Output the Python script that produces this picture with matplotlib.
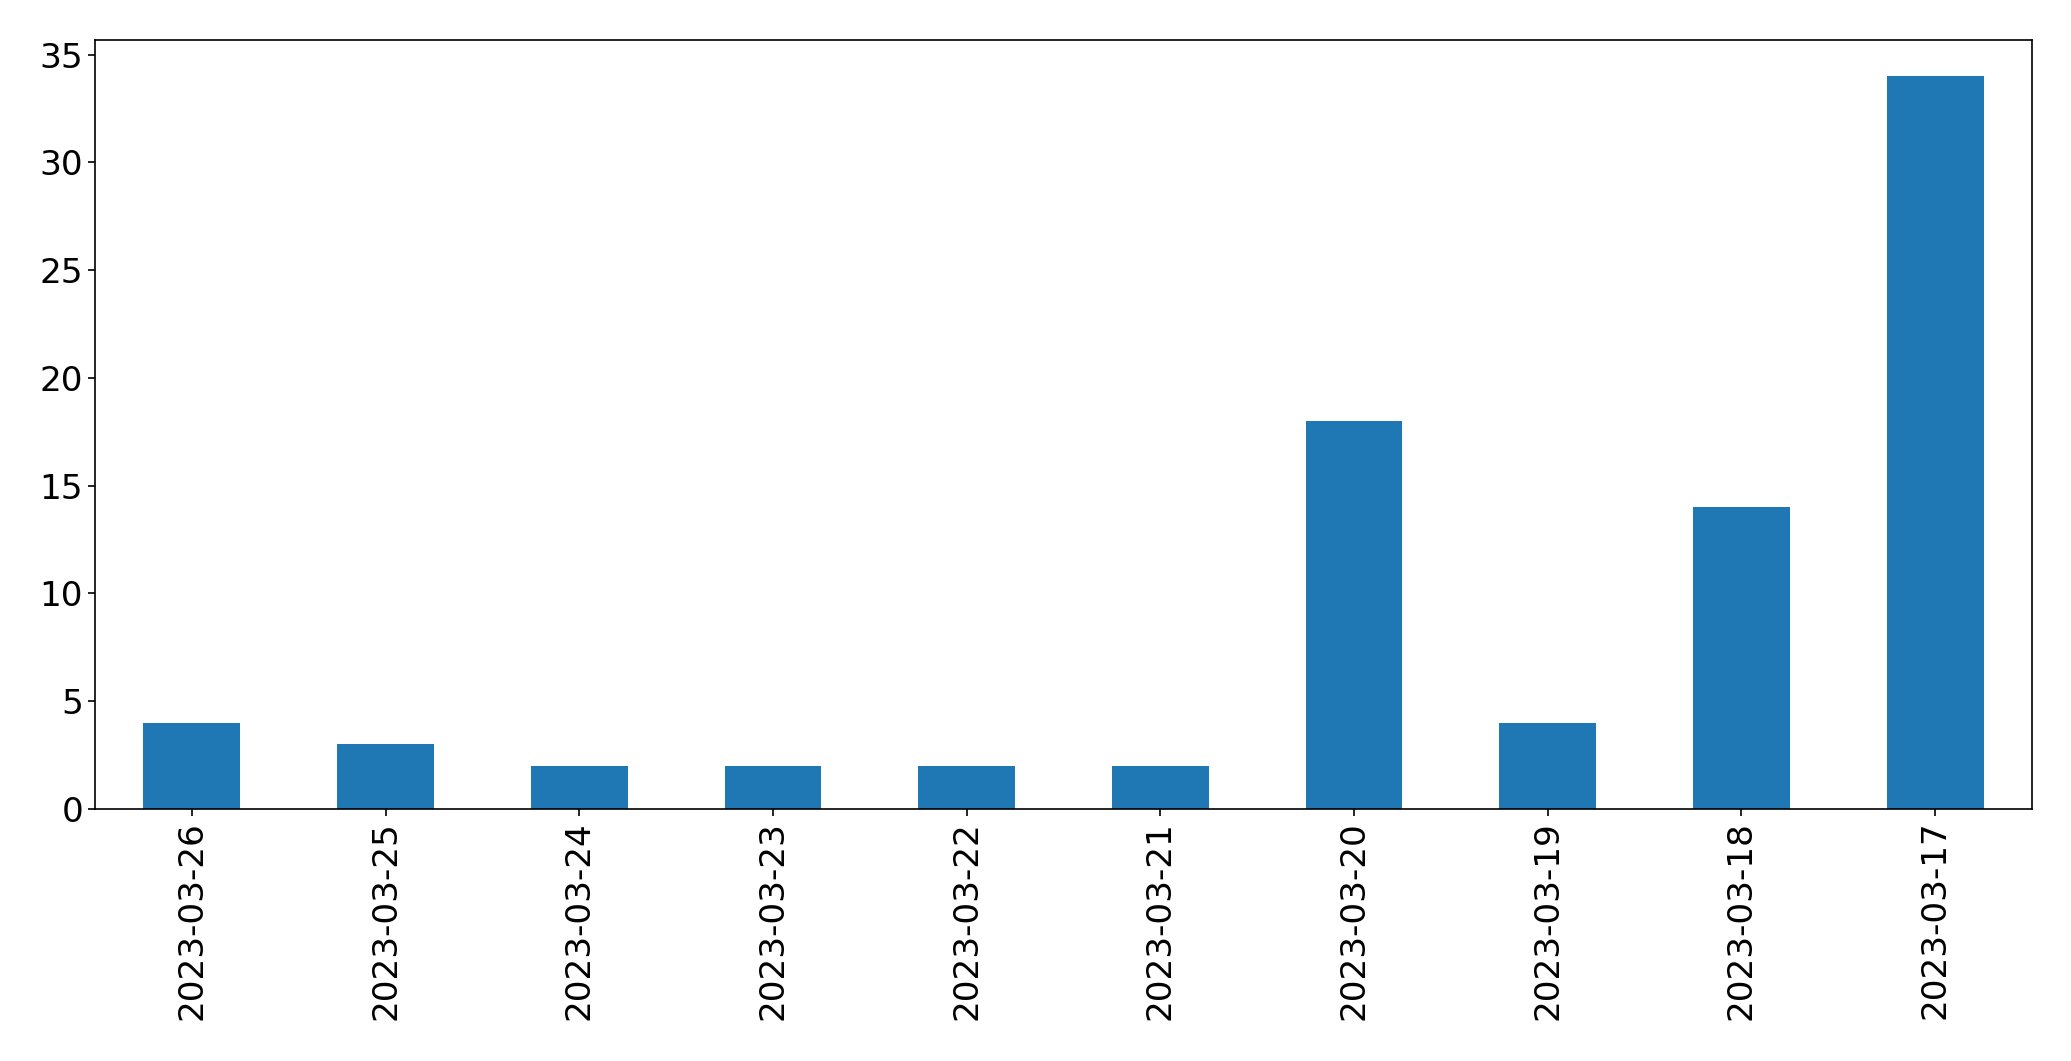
import matplotlib
import matplotlib.pyplot as plt
import pandas as pd

matplotlib.use("Agg")

dates = ["2023-03-26", "2023-03-25", "2023-03-24", "2023-03-23", "2023-03-22",
         "2023-03-21", "2023-03-20", "2023-03-19", "2023-03-18", "2023-03-17"]
counts = [4, 3, 2, 2, 2, 2, 18, 4, 14, 34]

plt.rcParams["font.size"] = 24.7
plt.rcParams["axes.linewidth"] = 1.2
plt.rcParams["xtick.major.width"] = 1.2
plt.rcParams["ytick.major.width"] = 1.2
plt.rcParams["xtick.major.size"] = 5
plt.rcParams["ytick.major.size"] = 5

fig = plt.figure(figsize=(20.71, 10.61), dpi=100)
ax = fig.add_axes([95 / 2071, 1 - 809 / 1061, (2032 - 95) / 2071, (809 - 39.5) / 1061])

s = pd.Series(counts, index=dates)
s.plot(kind="bar", ax=ax, color="#1f77b4")
ax.set_yticks([0, 5, 10, 15, 20, 25, 30, 35])

fig.savefig("out.png", dpi=100)
